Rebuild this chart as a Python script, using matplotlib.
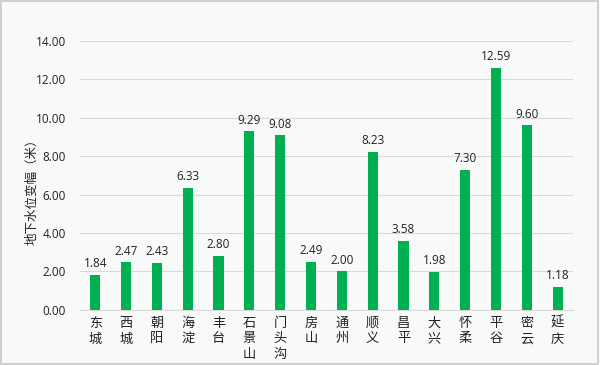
import matplotlib
matplotlib.use("Agg")
import matplotlib.pyplot as plt
from matplotlib.patches import Rectangle

plt.rcParams['font.family'] = ['Noto Sans CJK SC', 'DejaVu Sans']

districts = ["东城", "西城", "朝阳", "海淀", "丰台", "石景山", "门头沟", "房山", "通州",
             "顺义", "昌平", "大兴", "怀柔", "平谷", "密云", "延庆"]
values = [1.84, 2.47, 2.43, 6.33, 2.80, 9.29, 9.08, 2.49, 2.00,
          8.23, 3.58, 1.98, 7.30, 12.59, 9.60, 1.18]
yticks = [0, 2, 4, 6, 8, 10, 12, 14]
ylabel = "地下水位变幅（米）"

bg = "#f8f9f9"
fig = plt.figure(figsize=(6, 3.65), dpi=100, facecolor=bg)
ax = fig.add_axes([0.133, 0.151, 0.822, 0.737], facecolor=bg)

x = list(range(len(districts)))
ax.bar(x, values, width=0.33, color="#00b050", zorder=3)
for xi, v in zip(x, values):
    ax.text(xi, v + 0.25, f"{v:.2f}", ha="center", va="bottom", fontsize=8.5,
            family=["Open Sans", "DejaVu Sans"], color="#222222")

ax.set_xlim(-0.5, len(districts) - 0.5)
ax.set_ylim(0, 14)
ax.set_yticks(yticks)
ax.set_yticklabels([f"{t:.2f}" for t in yticks], family=["Open Sans", "DejaVu Sans"],
                   fontsize=8.5, color="#222222")
ax.set_xticks(x)
ax.set_xticklabels(["\n".join(d) for d in districts], fontsize=9.5, color="#222222",
                   linespacing=1.25, va="top")
ax.tick_params(axis="both", length=0)
ax.tick_params(axis="y", pad=10)
ax.tick_params(axis="x", pad=5)
ax.grid(axis="y", color="#d9d9d9", linewidth=0.8, zorder=0)
for s in ["top", "right", "left"]:
    ax.spines[s].set_visible(False)
ax.spines["bottom"].set_color("#d9d9d9")
ax.set_ylabel(ylabel, fontsize=9, color="#222222")
ax.yaxis.set_label_coords(-0.085, 0.45)

fig.patches.append(Rectangle((0.002, 0.003), 0.995, 0.994, transform=fig.transFigure,
                             fill=False, edgecolor="#c8c8c8", linewidth=1.2))

fig.savefig("out.png", dpi=100, facecolor=bg)
